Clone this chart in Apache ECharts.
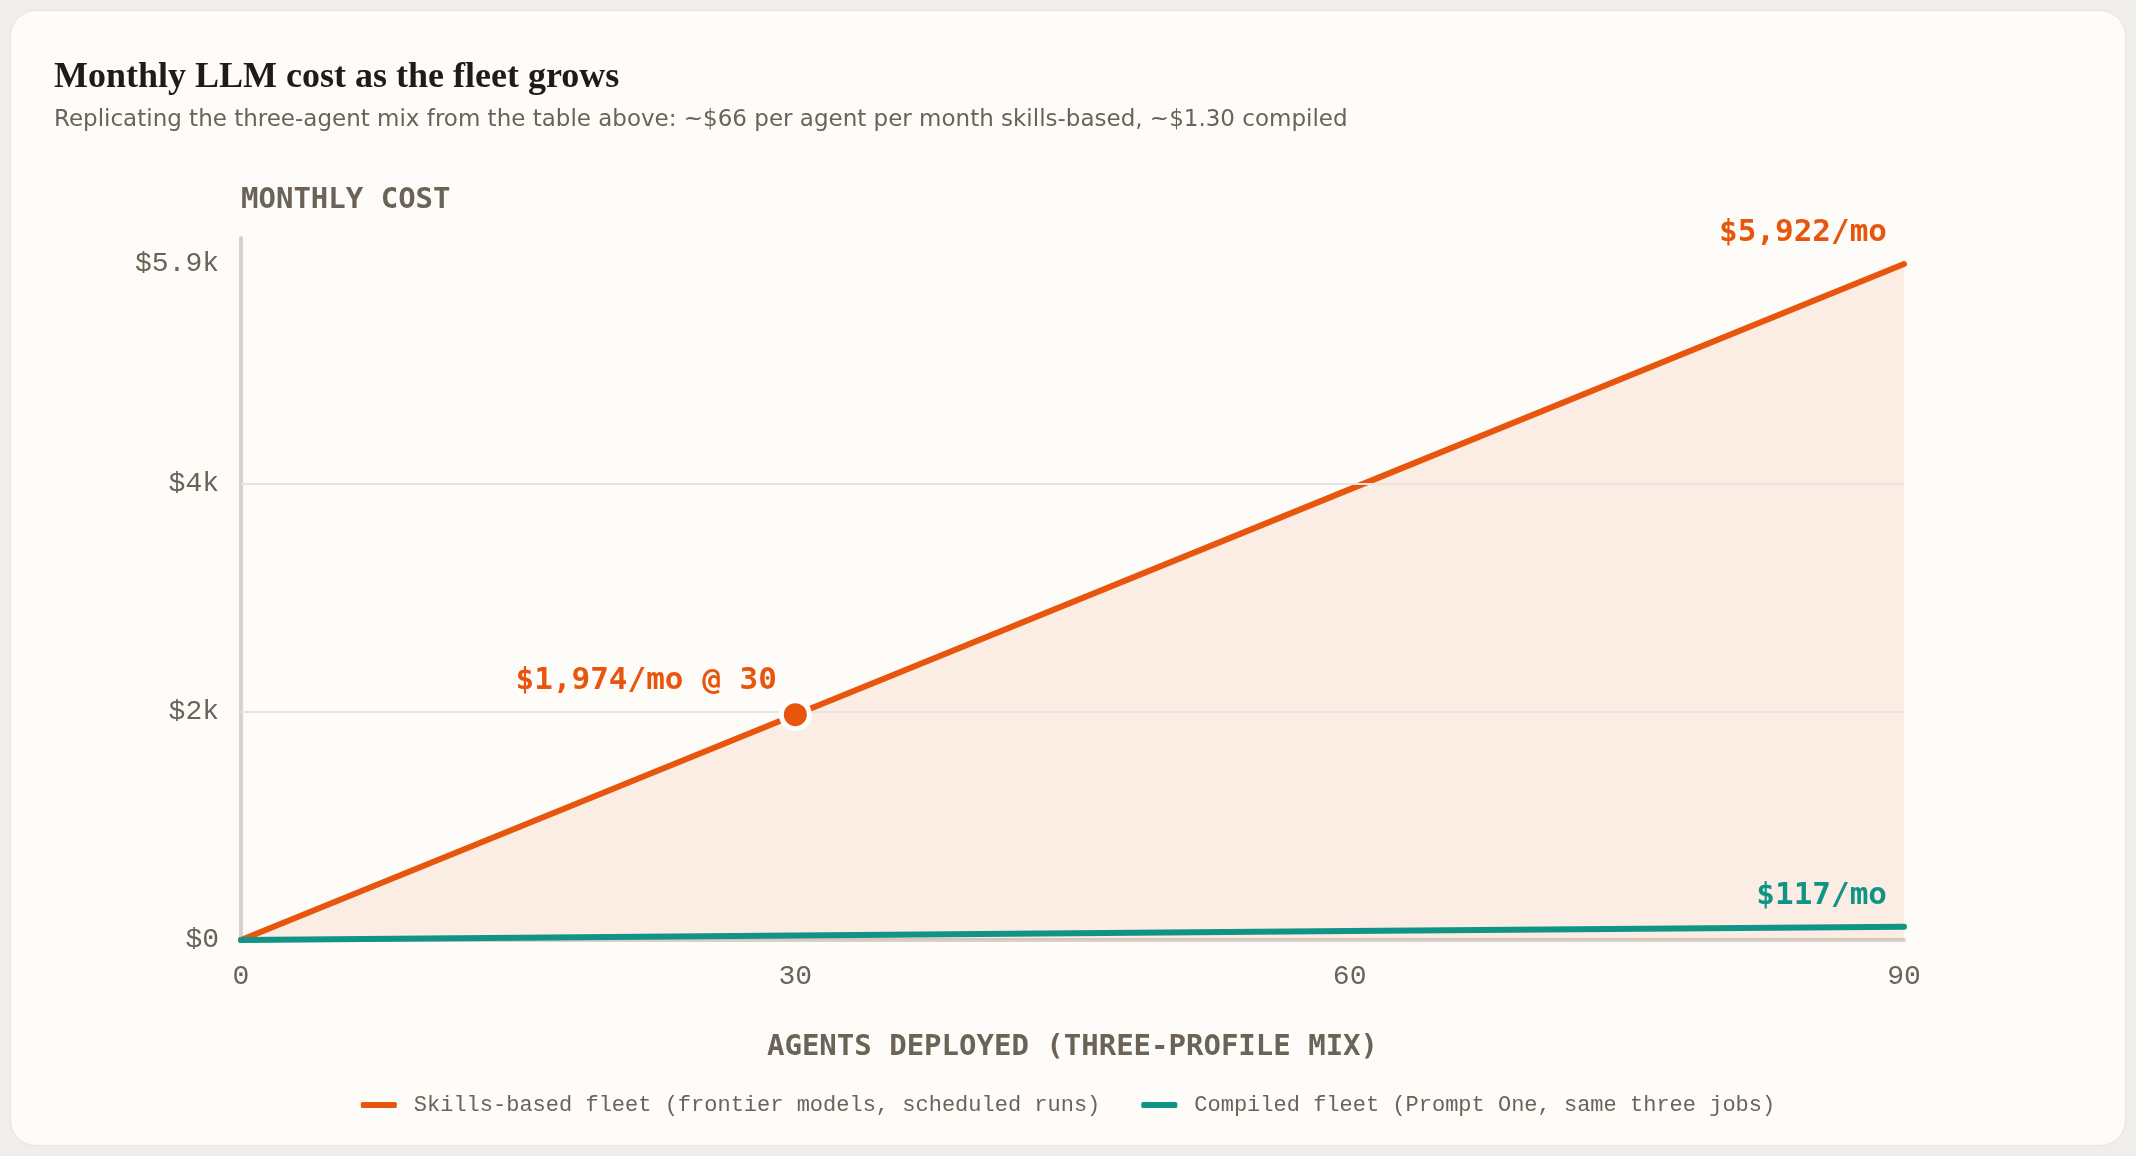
<!DOCTYPE html>
<html>
<head>
<meta charset="utf-8">
<script src="https://cdn.jsdelivr.net/npm/echarts@6/dist/echarts.min.js"></script>
<style>
  html, body { margin: 0; padding: 0; background: #efeeea; }
  #card { position: absolute; left: 10px; top: 10px; width: 2114px; height: 1134px;
          background: #fdfcf8; border: 1px solid #e6e4de; border-radius: 26px; }
  #chart { position: absolute; left: 0; top: 0; width: 2136px; height: 1156px; }
</style>
</head>
<body>
<div id="card"></div>
<div id="chart"></div>
<script>
// agents deployed vs monthly cost (USD)
var agents = [0, 30, 60, 90];
var skillsCost = [0, 1974, 3948, 5922];
var compiledCost = [0, 39, 78, 117];

var xTicks = [0, 30, 60, 90];
var yTickValues = [0, 2000, 4000, 5922];
var yTickLabels = ['$0', '$2k', '$4k', '$5.9k'];
var gridValues = [2000, 4000];

var seriesNames = ['Skills-based fleet (frontier models, scheduled runs)', 'Compiled fleet (Prompt One, same three jobs)'];
var highlightIdx = 1;
var highlightLabel = '$1,974/mo @ 30';
var endLabels = ['$5,922/mo', '$117/mo'];

var orange = '#e8560e';
var teal = '#0f9485';
var muted = '#6b6357';
var mono = '"Liberation Mono", monospace';
var monoBold = '"DejaVu Sans Mono", monospace';

function pairs(ys){
	return agents.map(function(a, i){ return [a, ys[i]]; });
}

var chart = echarts.init(document.getElementById('chart'));
var last = agents.length - 1;

var option = {
	animation: false,
	title: [
		{
			text: 'Monthly LLM cost as the fleet grows',
			left: 54, top: 60, padding: 0,
			textStyle: { fontFamily: '"Liberation Serif", serif', fontWeight: 'bold', fontSize: 36, color: '#1f1b16' }
		},
		{
			text: 'Replicating the three-agent mix from the table above: ~$66 per agent per month skills-based, ~$1.30 compiled',
			left: 54, top: 109, padding: 0,
			textStyle: { fontFamily: '"DejaVu Sans", sans-serif', fontWeight: 'normal', fontSize: 23, color: muted }
		}
	],
	legend: {
		data: seriesNames,
		top: 1089,
		left: 'center',
		icon: 'roundRect',
		itemWidth: 36,
		itemHeight: 6,
		itemGap: 41,
		textStyle: { fontFamily: mono, fontSize: 22, color: muted, padding: [0, 0, 0, 12] }
	},
	grid: { left: 241, right: 232, top: 238, bottom: 216 },
	xAxis: {
		type: 'value',
		min: 0, max: 90, interval: 30,
		name: 'AGENTS DEPLOYED (THREE-PROFILE MIX)',
		nameLocation: 'middle',
		nameGap: 93,
		nameTextStyle: { fontFamily: monoBold, fontWeight: 'bold', fontSize: 29, color: muted },
		axisLine: { lineStyle: { color: '#d6d1ca', width: 4 } },
		axisTick: { show: false },
		splitLine: { show: false },
		axisLabel: {
			customValues: xTicks,
			fontFamily: mono, fontSize: 28, color: muted, margin: 23
		}
	},
	yAxis: {
		type: 'value',
		min: 0, max: 6150,
		name: 'MONTHLY COST',
		nameLocation: 'end',
		nameGap: 38,
		nameTextStyle: { fontFamily: monoBold, fontWeight: 'bold', fontSize: 29, color: muted, align: 'left', verticalAlign: 'middle' },
		axisLine: { show: true, lineStyle: { color: '#d6d1ca', width: 4 } },
		axisTick: { show: false },
		splitLine: { show: false },
		axisLabel: {
			customValues: yTickValues,
			formatter: function(v){
				var i = yTickValues.indexOf(v);
				return i >= 0 ? yTickLabels[i] : '';
			},
			fontFamily: mono, fontSize: 28, color: muted, margin: 22
		}
	},
	series: [
		{
			// gridlines only
			type: 'line',
			data: [],
			z: 1,
			markLine: {
				silent: true,
				symbol: 'none',
				label: { show: false },
				lineStyle: { color: '#e9e5de', width: 2, type: 'solid' },
				data: gridValues.map(function(v){ return { yAxis: v }; })
			}
		},
		{
			name: seriesNames[0],
			type: 'line',
			data: pairs(skillsCost),
			symbol: 'none',
			color: orange,
			z: 2,
			lineStyle: { color: orange, width: 6, cap: 'round' },
			areaStyle: { color: 'rgba(232,86,14,0.12)' },
			markPoint: {
				silent: true,
				data: [
					{
						coord: [agents[highlightIdx], skillsCost[highlightIdx]],
						symbol: 'circle',
						symbolSize: 28,
						itemStyle: { color: orange, borderColor: '#ffffff', borderWidth: 5 },
						label: {
							show: true, formatter: highlightLabel,
							position: [-2, -17], align: 'right', verticalAlign: 'middle',
							fontFamily: monoBold, fontWeight: 'bold', fontSize: 31, color: orange
						}
					},
					{
						coord: [agents[last], skillsCost[last]],
						symbol: 'circle',
						symbolSize: 2,
						itemStyle: { color: 'rgba(0,0,0,0)' },
						label: {
							show: true, formatter: endLabels[0],
							position: [-16, -30], align: 'right', verticalAlign: 'middle',
							fontFamily: monoBold, fontWeight: 'bold', fontSize: 31, color: orange
						}
					}
				]
			}
		},
		{
			name: seriesNames[1],
			type: 'line',
			data: pairs(compiledCost),
			symbol: 'none',
			color: teal,
			z: 3,
			lineStyle: { color: teal, width: 6, cap: 'round' },
			markPoint: {
				silent: true,
				data: [
					{
						coord: [agents[last], compiledCost[last]],
						symbol: 'circle',
						symbolSize: 2,
						itemStyle: { color: 'rgba(0,0,0,0)' },
						label: {
							show: true, formatter: endLabels[1],
							position: [-16, -30], align: 'right', verticalAlign: 'middle',
							fontFamily: monoBold, fontWeight: 'bold', fontSize: 31, color: teal
						}
					}
				]
			}
		}
	]
};
chart.setOption(option);
</script>
</body>
</html>
